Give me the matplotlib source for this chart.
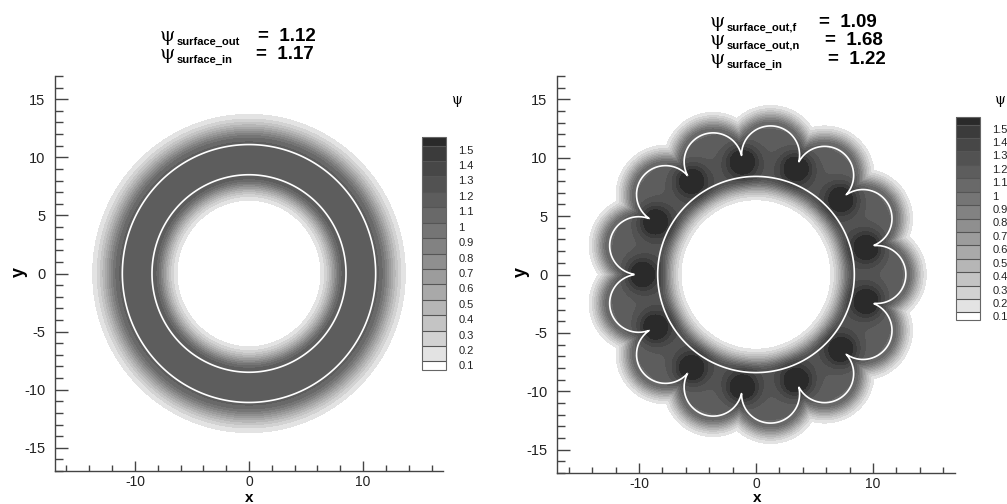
import numpy as np
import matplotlib
matplotlib.use('Agg')
import matplotlib.pyplot as plt
from matplotlib.colors import ListedColormap
from matplotlib.ticker import MultipleLocator, FixedLocator

plt.rcParams['font.family'] = ['Liberation Sans', 'DejaVu Sans']
plt.rcParams['axes.unicode_minus'] = False

# contour levels of psi and the grey of each band (0.1-0.2 ... 1.4-1.5)
levels = [0.1, 0.2, 0.3, 0.4, 0.5, 0.6, 0.7, 0.8, 0.9, 1.0, 1.1, 1.2, 1.3, 1.4, 1.5]
band_grays = ['#e3e3e3', '#d2d2d2', '#c4c4c4', '#b6b6b6', '#a9a9a9', '#9c9c9c', '#8f8f8f',
              '#828282', '#757575', '#696969', '#5d5d5d', '#525252', '#474747', '#3b3b3b']
over_gray = '#2a2a2a'

# left case: concentric film
psi_left = {'surface_out': 1.12, 'surface_in': 1.17}
r_in_left = 8.5          # inner surface radius
r_out_left = 11.1        # outer surface radius
halo_left = 2.6          # outer halo thickness (to psi=0.1)
hole_left = 6.3          # radius of the empty core

# right case: lobed outer surface
psi_right = {'surface_out,f': 1.09, 'surface_out,n': 1.68, 'surface_in': 1.22}
n_lobes = 13
r_in_right = 8.4
lobe_center_r = 10.32
lobe_radius = 2.48
neck_r = 9.8
halo_right = 1.75
hole_right = 6.4
neck_sigma = 1.0

# grid
x = np.linspace(-17, 17, 700)
X, Y = np.meshgrid(x, x)
R = np.hypot(X, Y)
TH = np.arctan2(Y, X)


def decay_len(psi0, width):
    return width / np.sqrt(np.log(psi0 / 0.1))


# ---- left field
po, pi = psi_left['surface_out'], psi_left['surface_in']
Lo = decay_len(po, halo_left)
Li = decay_len(pi, r_in_left - hole_left)
s = np.clip((R - r_in_left) / (r_out_left - r_in_left), 0, 1)
F1 = pi + (po - pi) * s
F1 = np.where(R > r_out_left, po * np.exp(-((R - r_out_left) / Lo) ** 2), F1)
F1 = np.where(R < r_in_left, pi * np.exp(-((r_in_left - R) / Li) ** 2), F1)

# ---- right field
pf = psi_right['surface_out,f']
pn = psi_right['surface_out,n']
pr = psi_right['surface_in']
lobe_ang = np.arange(n_lobes) * 2 * np.pi / n_lobes
rb = np.zeros_like(R)
dmin = np.full_like(R, 1e9)
for a in lobe_ang:
    d = np.angle(np.exp(1j * (TH - a)))
    q = lobe_radius ** 2 - (lobe_center_r * np.sin(d)) ** 2
    ray = np.where((q > 0) & (np.cos(d) > 0), lobe_center_r * np.cos(d) + np.sqrt(np.clip(q, 0, None)), 0)
    rb = np.maximum(rb, ray)
    dmin = np.minimum(dmin, np.hypot(X - lobe_center_r * np.cos(a), Y - lobe_center_r * np.sin(a)) - lobe_radius)

Lo2 = decay_len(pf, halo_right)
Li2 = decay_len(pr, r_in_right - hole_right)
s2 = np.clip((R - r_in_right) / (rb - r_in_right), 0, 1)
F2 = pr + (pf - pr) * s2
F2 = np.where(R > rb, pf * np.exp(-(np.clip(dmin, 0, None) / Lo2) ** 2), F2)
F2 = np.where(R < r_in_right, pr * np.exp(-((r_in_right - R) / Li2) ** 2), F2)
# dark necks between lobes
for a in lobe_ang + np.pi / n_lobes:
    cx, cy = neck_r * np.cos(a), neck_r * np.sin(a)
    F2 = F2 + (pn - 1.12) * np.exp(-((X - cx) ** 2 + (Y - cy) ** 2) / (2 * neck_sigma ** 2))

cmap = ListedColormap(band_grays)
cmap.set_under('white')
cmap.set_over(over_gray)

fig = plt.figure(figsize=(10.07, 5.04), dpi=100)
W, H = 1007.0, 504.0


def setup_axes(ax):
    ax.set_xlim(-17, 17)
    ax.set_ylim(-17, 17)
    for sp in ['top', 'right']:
        ax.spines[sp].set_visible(False)
    for sp in ['left', 'bottom']:
        ax.spines[sp].set_color('#444444')
        ax.spines[sp].set_linewidth(1.0)
    ax.xaxis.set_major_locator(FixedLocator([-10, 0, 10]))
    ax.xaxis.set_minor_locator(MultipleLocator(2))
    ax.yaxis.set_major_locator(MultipleLocator(5))
    ax.yaxis.set_minor_locator(MultipleLocator(1))
    ax.tick_params(axis='both', which='both', direction='in', colors='#444444', labelcolor='#222222')
    ax.tick_params(axis='y', which='major', length=9, width=1.0, pad=7, labelsize=10.5)
    ax.tick_params(axis='y', which='minor', length=5.5, width=1.0)
    ax.tick_params(axis='x', which='major', length=7.5, width=1.0, pad=3, labelsize=10)
    ax.tick_params(axis='x', which='minor', length=4, width=1.0)
    ax.set_facecolor('white')


def add_cbar(cf, left, top, bottom, label_x):
    cax = fig.add_axes([left / W, 1 - bottom / H, 24 / W, (bottom - top) / H])
    cb = fig.colorbar(cf, cax=cax, ticks=levels, extendrect=True, extendfrac=0.04, drawedges=True)
    cb.outline.set_edgecolor('#666666')
    cb.outline.set_linewidth(0.8)
    cb.dividers.set_color('#555555')
    cb.dividers.set_linewidth(0.8)
    cb.ax.tick_params(length=0, pad=9, labelsize=8, labelcolor='#222222')
    cb.ax.set_yticklabels(['%g' % v for v in levels])
    for t in cb.ax.get_yticklabels():
        t.set_verticalalignment('top')
    fig.text(label_x / W, 1 - 104 / H, 'ψ', fontsize=10, family=['DejaVu Serif'], ha='center', va='baseline')


# left panel
ax1 = fig.add_axes([55 / W, 1 - 471 / H, 388 / W, 395 / H])
setup_axes(ax1)
cf1 = ax1.contourf(X, Y, F1, levels=levels, cmap=cmap, extend='both')
ax1.contour(X, Y, R, levels=[r_in_left, r_out_left], colors='white', linewidths=1.2)
add_cbar(cf1, 422, 137, 370, 457)

# right panel
ax2 = fig.add_axes([557 / W, 1 - 473 / H, 398 / W, 397 / H])
setup_axes(ax2)
cf2 = ax2.contourf(X, Y, F2, levels=levels, cmap=cmap, extend='both')
ax2.contour(X, Y, R, levels=[r_in_right], colors='white', linewidths=1.2)
ax2.contour(X, Y, R - rb, levels=[0], colors='white', linewidths=1.2)
add_cbar(cf2, 956, 117, 320, 1000)

# axis labels
for xl, yl in [(19, 272), (521, 272)]:
    fig.text(xl / W, 1 - yl / H, 'y', fontsize=13, fontweight='bold', rotation=90, ha='center', va='center')
for xl in [249, 757]:
    fig.text(xl / W, 1 - 502 / H, 'x', fontsize=11, fontweight='bold', ha='center', va='baseline')


# psi annotations
def psi_line(x0, xeq, base, sub, val):
    fig.text(x0 / W, 1 - base / H, 'ψ', fontsize=14, family=['DejaVu Serif'], ha='left', va='baseline')
    fig.text((x0 + 17) / W, 1 - (base + 4) / H, sub, fontsize=8, fontweight='bold', ha='left', va='baseline')
    fig.text(xeq / W, 1 - base / H, '=  %.2f' % val, fontsize=13.5, fontweight='bold', ha='left', va='baseline')


psi_line(160, 258, 41, 'surface_out', psi_left['surface_out'])
psi_line(160, 256, 59, 'surface_in', psi_left['surface_in'])
psi_line(710, 819, 27, 'surface_out,f', psi_right['surface_out,f'])
psi_line(710, 825, 45, 'surface_out,n', psi_right['surface_out,n'])
psi_line(710, 828, 64, 'surface_in', psi_right['surface_in'])

fig.savefig('out.png', dpi=100)
